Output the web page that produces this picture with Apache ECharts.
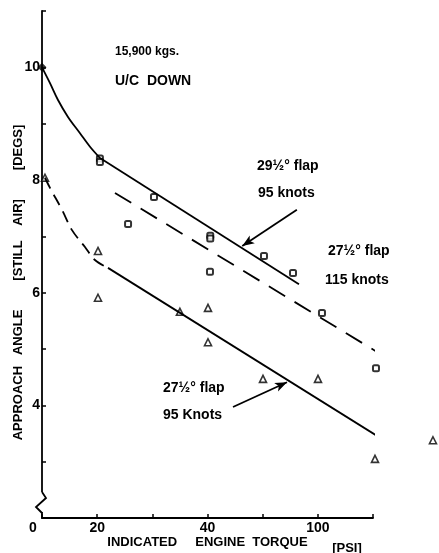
<!DOCTYPE html>
<html><head><meta charset="utf-8">
<script src="https://cdn.jsdelivr.net/npm/echarts@6/dist/echarts.min.js"></script>
<style>html,body{margin:0;padding:0;background:#fff}#c{width:439px;height:553px}</style>
</head><body><div id="c"></div>
<script>
// ---- data (x in torque-axis units, y in degrees) ----
const xTickLabels = {10: '0', 20: '20', 40: '40', 60: '100'};
const yTickLabels = {4: '4', 6: '6', 8: '8', 10: '10'};

// 29 1/2 deg flap, 95 knots (solid, upper)
const flap29Curve = [[10, 10], [11.45, 9.72], [12.9, 9.42], [14.71, 9.12], [16.89, 8.83], [18.7, 8.59], [20.51, 8.39]];
const flap29Line = [[20.51, 8.39], [56.58, 6.15]];
// 27 1/2 deg flap, 115 knots (dashed, middle)
const flap27FastLine = [[23.23, 7.77], [74.9, 4.70]];
// 27 1/2 deg flap, 95 knots (dashed curve then solid, lower)
const flap27SlowCurve = [[10.54, 8.04], [11.45, 7.86], [13.63, 7.47], [15.44, 7.11], [17.79, 6.81], [19.6, 6.58], [21.96, 6.44]];
const flap27SlowLine = [[21.96, 6.44], [73.62, 3.28]];

const startPoint = [[10, 10]];
const squarePoints = [[20.5, 8.38], [20.5, 8.32], [25.6, 7.22], [30.3, 7.70], [40.5, 7.01], [40.5, 6.96],
  [40.45, 6.37], [50.24, 6.65], [55.5, 6.35], [60.75, 5.64], [70.54, 4.66]];
const trianglePoints = [[10.54, 8.04], [20.15, 6.74], [20.15, 5.91], [35.0, 5.66], [40.09, 5.73],
  [40.09, 5.12], [50.06, 4.47], [60.03, 4.47], [70.36, 3.05], [80.87, 3.38]];

// annotation arrows: [from, to]
const arrow29 = [[56.2, 7.47], [46.3, 6.83]];
const arrow27Fast = [[70.36, 5.92], [62.56, 5.46]];
const arrow27Slow = [[44.62, 3.97], [54.41, 4.41]];

const FONT = "'Liberation Sans', Arial, Helvetica, sans-serif";
const chart = echarts.init(document.getElementById('c'), null, {renderer: 'canvas'});

function lineSeries(data, type, smooth) {
  return {
    type: 'line', data, smooth: smooth ? 0.35 : false, symbol: 'none', clip: false, silent: true,
    lineStyle: {color: '#000', width: 1.8, type: type}
  };
}
function arrowMark(a) {
  return {
    type: 'line', data: [], silent: true,
    markLine: {
      silent: true, symbol: ['none', 'arrow'], symbolSize: [7, 12],
      lineStyle: {color: '#000', width: 1.8, type: 'solid'}, label: {show: false},
      data: [[{coord: a[0]}, {coord: a[1]}]]
    }
  };
}

chart.setOption({
  backgroundColor: '#fff',
  animation: false,
  grid: {left: 42, right: 66, top: 11, bottom: 35, containLabel: false, outerBoundsMode: 'none'},
  xAxis: {
    type: 'value', min: 10, max: 70, interval: 10,
    axisLine: {lineStyle: {color: '#000', width: 1.8}},
    axisTick: {inside: true, length: 4, lineStyle: {color: '#000', width: 1.5}},
    splitLine: {show: false},
    axisLabel: {
      margin: 3, color: '#000', fontFamily: FONT, fontWeight: 'bold', fontSize: 14,
      formatter: v => v === 10 ? '{z|0}' : (xTickLabels[v] || ''),
      rich: {z: {padding: [0, 18, 0, 0], fontFamily: FONT, fontWeight: 'bold', fontSize: 14, color: '#000'}}
    },
    name: 'INDICATED     ENGINE  TORQUE', nameLocation: 'middle', nameGap: 18, nameMoveOverlap: false,
    nameTextStyle: {color: '#000', fontFamily: FONT, fontWeight: 'bold', fontSize: 13}
  },
  yAxis: {
    type: 'value', min: 2, max: 11, interval: 1,
    axisLine: {lineStyle: {color: '#000', width: 1.8}},
    axisTick: {inside: true, length: 4, lineStyle: {color: '#000', width: 1.5}},
    splitLine: {show: false},
    axisLabel: {
      margin: 2, color: '#000', fontFamily: FONT, fontWeight: 'bold', fontSize: 14,
      formatter: v => yTickLabels[v] || ''
    },
    name: 'APPROACH   ANGLE        [STILL    AIR]        [DEGS]', nameLocation: 'middle', nameGap: 17, nameMoveOverlap: false,
    nameTextStyle: {color: '#000', fontFamily: FONT, fontWeight: 'bold', fontSize: 13, padding: [0, 36, 0, 0]}
  },
  series: [
    lineSeries(flap29Curve, 'solid', true),
    lineSeries(flap29Line, 'solid', false),
    lineSeries(flap27FastLine, [19, 11], false),
    lineSeries(flap27SlowCurve, [12, 7], true),
    lineSeries(flap27SlowLine, 'solid', false),
    {type: 'scatter', data: startPoint, symbol: 'diamond', symbolSize: 9, clip: false,
      itemStyle: {color: '#000'}},
    {type: 'scatter', data: squarePoints, symbol: 'roundRect', symbolSize: 6, clip: false,
      itemStyle: {color: '#fff', borderColor: '#000', borderWidth: 2}},
    {type: 'scatter', data: trianglePoints, symbol: 'triangle', symbolSize: 7, clip: false,
      itemStyle: {color: '#fff', borderColor: '#000', borderWidth: 1.6}},
    arrowMark(arrow29), arrowMark(arrow27Fast), arrowMark(arrow27Slow)
  ]
});

// annotation texts and axis break
const [axX, axY] = chart.convertToPixel({gridIndex: 0}, [10, 2]);
function txt(text, x, y, size, align) {
  return {type: 'text', x, y, z: 100, style: {text, fill: '#000', align: align || 'left', verticalAlign: 'middle',
    font: 'bold ' + size + 'px ' + FONT}};
}
chart.setOption({
  graphic: [
    txt('15,900 kgs.', 115, 52, 12),
    txt('U/C  DOWN', 115, 81, 14),
    txt('29½° flap', 257, 166, 14),
    txt('95 knots', 258, 193, 14),
    txt('27½° flap', 328, 251, 14),
    txt('115 knots', 325, 280, 14),
    txt('27½° flap', 163, 388, 14),
    txt('95 Knots', 163, 415, 14),
    txt('[PSI]', 347, 548, 13, 'center'),
    {type: 'rect', z: 99, shape: {x: axX - 3, y: axY - 26, width: 6, height: 20}, style: {fill: '#fff'}},
    {type: 'polyline', z: 100, shape: {points: [[axX, axY - 26], [axX + 4, axY - 20], [axX - 6, axY - 11], [axX, axY - 5]]},
      style: {stroke: '#000', lineWidth: 1.8, fill: null}}
  ]
});
</script></body></html>
